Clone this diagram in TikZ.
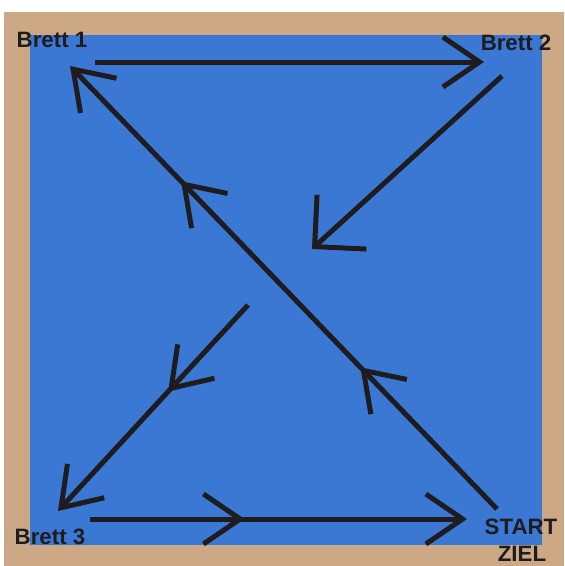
\documentclass[tikz,border=0pt]{standalone}
\usepackage{fontspec}
\setmainfont{Liberation Sans}
\usetikzlibrary{arrows.meta,decorations.markings}
\definecolor{rahmen}{RGB}{204,168,132}
\definecolor{wasser}{RGB}{58,120,212}
\definecolor{stift}{RGB}{30,28,30}
\tikzset{
  brett/.style={font=\bfseries\fontsize{19}{21}\selectfont,text=stift,inner sep=0pt},
  spitze/.tip={Straight Barb[length=11mm,width=15mm]},
  weg/.style={line width=1.5mm,stift,-spitze},
  marke/.style={postaction={decorate,decoration={markings,
      mark=at position #1 with {\arrow{spitze}}}}}
}
\begin{document}
\begin{tikzpicture}[x=0.3mm,y=-0.3mm]
  \useasboundingbox (0,0) rectangle (564,566);
  \fill[white] (0,0) rectangle (564,566);
  \fill[rahmen] (4,12) rectangle (564,566);
  \fill[wasser] (30,35) rectangle (542,545);
  % Beschriftung
  \node[brett] (brett1) at (52,40) {Brett 1};
  \node[brett] (brett2) at (516,43) {Brett 2};
  \node[brett] (brett3) at (50,537) {Brett 3};
  \node[brett] (start) at (521,527) {START};
  \node[brett] (ziel) at (522,554) {ZIEL};
  % Anfangs- und Endpunkte der Wege
  \coordinate (b1in) at (70,66);
  \coordinate (b1aus) at (95,62);
  \coordinate (b2in) at (484,62);
  \coordinate (b2aus) at (502,76);
  \coordinate (mitteA) at (312,249);
  \coordinate (mitteB) at (248,305);
  \coordinate (b3in) at (58,511);
  \coordinate (b3aus) at (90,519);
  \coordinate (zielin) at (467,519);
  \coordinate (startaus) at (497,509);
  % Wege
  \draw[weg] (b1aus) -- (b2in);
  \draw[weg,-{Straight Barb[length=11mm,width=22mm]}] (b2aus) -- (mitteA);
  \draw[weg,marke=0.42] (mitteB) -- (b3in);
  \draw[weg,marke=0.41] (b3aus) -- (zielin);
  \draw[weg,marke=0.32,marke=0.74] (startaus) -- (b1in);
\end{tikzpicture}
\end{document}
